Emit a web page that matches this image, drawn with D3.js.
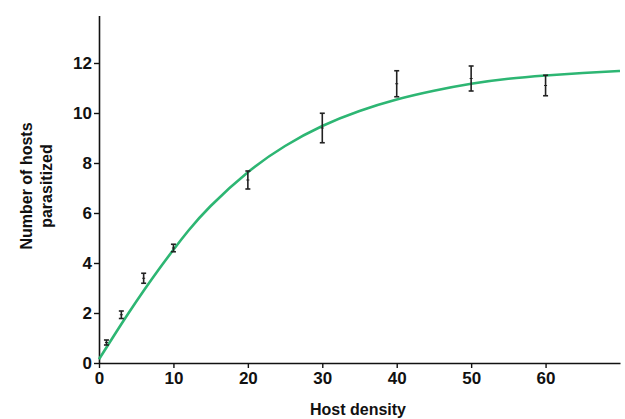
<!DOCTYPE html>
<html><head><meta charset="utf-8">
<script src="https://cdn.jsdelivr.net/npm/d3@7/dist/d3.min.js"></script>
<style>
body{margin:0;background:#fff;}
svg{display:block;}
text{font-family:"Liberation Sans",Arial,sans-serif;font-weight:bold;fill:#111;}
</style></head>
<body>
<svg id="chart" width="625" height="419"></svg>
<script>
// Observed data (means with error bars)
const hostDensity = [1, 3, 6, 10, 20, 30, 40, 50, 60];
const meanParasitized = [0.82, 1.93, 3.39, 4.6, 7.32, 9.4, 11.17, 11.38, 11.1];
const errParasitized = [0.1, 0.15, 0.2, 0.15, 0.36, 0.59, 0.52, 0.5, 0.41];

// Fitted curve
const curveX = [0, 2, 4, 6, 8, 10, 12, 15, 20, 25, 30, 35, 40, 45, 50, 55, 60, 65, 70];
const curveY = [0.15, 1.09, 2.01, 2.89, 3.73, 4.53, 5.29, 6.28, 7.63, 8.68, 9.48, 10.08, 10.54, 10.89, 11.17, 11.37, 11.5, 11.6, 11.68];

const xTicks = [0, 10, 20, 30, 40, 50, 60];
const yTicks = [0, 2, 4, 6, 8, 10, 12];

const svg = d3.select("#chart");
const x = d3.scaleLinear().domain([0, 70]).range([99, 620]);
const y = d3.scaleLinear().domain([0, 13.9]).range([363, 15.5]);

// axes
const xAxis = d3.axisBottom(x).tickValues(xTicks).tickSize(5).tickPadding(4).tickSizeOuter(0);
const yAxis = d3.axisLeft(y).tickValues(yTicks).tickSize(5).tickPadding(2).tickSizeOuter(0);

const gx = svg.append("g").attr("transform", "translate(0,363)").call(xAxis);
const gy = svg.append("g").attr("transform", "translate(99,0)").call(yAxis);
[gx, gy].forEach(g => {
  g.selectAll("path.domain").attr("stroke", "#111").attr("stroke-width", 1.6);
  g.selectAll(".tick line").attr("stroke", "#111").attr("stroke-width", 1.4);
  g.selectAll(".tick text").attr("font-size", 17).attr("font-family", "Liberation Sans, Arial, sans-serif").attr("font-weight", "bold").attr("fill", "#111");
});

// curve
const line = d3.line().x((d, i) => x(curveX[i])).y((d, i) => y(curveY[i])).curve(d3.curveNatural);
svg.append("path").datum(curveY).attr("d", line)
  .attr("fill", "none").attr("stroke", "#2db673").attr("stroke-width", 2.6);

// error bars
const eb = svg.append("g").attr("stroke", "#222").attr("stroke-width", 1.6);
hostDensity.forEach((hx, i) => {
  const cx = x(hx), top = y(meanParasitized[i] + errParasitized[i]), bot = y(meanParasitized[i] - errParasitized[i]);
  eb.append("line").attr("x1", cx).attr("x2", cx).attr("y1", top).attr("y2", bot);
  eb.append("line").attr("x1", cx - 2.5).attr("x2", cx + 2.5).attr("y1", top).attr("y2", top);
  eb.append("line").attr("x1", cx - 2.5).attr("x2", cx + 2.5).attr("y1", bot).attr("y2", bot);
  eb.append("line").attr("x1", cx - 1.5).attr("x2", cx + 1.5).attr("y1", y(meanParasitized[i])).attr("y2", y(meanParasitized[i])).attr("stroke-width", 1);
});

// axis titles
svg.append("text").attr("x", 358).attr("y", 415).attr("text-anchor", "middle").attr("font-size", 16).text("Host density");
const yl = svg.append("text").attr("transform", "translate(0,186) rotate(-90)").attr("text-anchor", "middle").attr("font-size", 16);
yl.append("tspan").attr("x", 0).attr("y", 32).text("Number of hosts");
yl.append("tspan").attr("x", 0).attr("y", 52).text("parasitized");
</script>
</body></html>
